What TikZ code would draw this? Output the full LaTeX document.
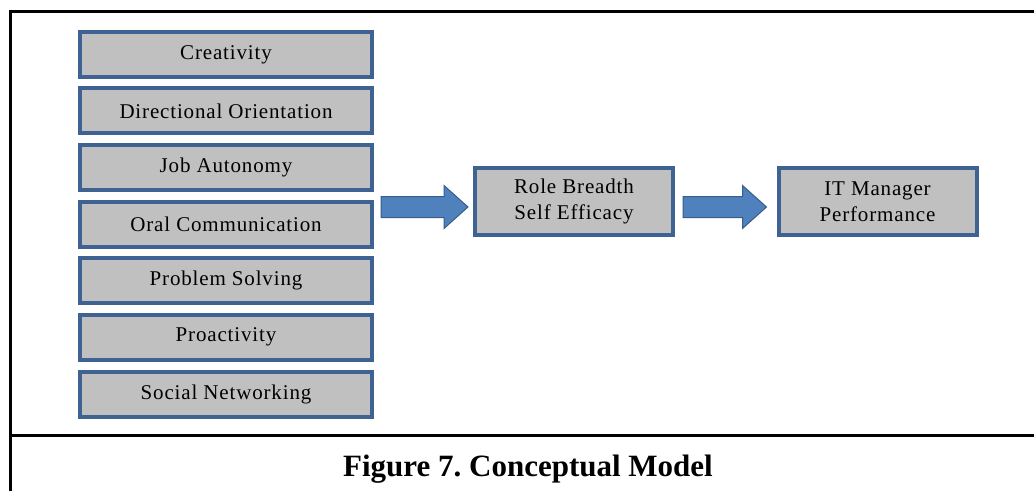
\documentclass[tikz,border=0pt]{standalone}
\usepackage{fontspec}
\setmainfont{Liberation Serif}
\newfontfamily\boxfont[LetterSpace=4]{Liberation Serif}
\usetikzlibrary{calc}
\definecolor{boxfill}{RGB}{192,192,192}
\definecolor{boxline}{RGB}{62,98,146}
\definecolor{arrowfill}{RGB}{79,129,189}
\definecolor{arrowline}{RGB}{56,93,138}
\tikzset{
  x=1pt, y=1pt,
  factor/.style={draw=boxline, line width=4pt, fill=boxfill, minimum width=292pt,
    minimum height=45pt, inner sep=0pt, font=\boxfont\fontsize{21}{26}\selectfont},
  stage/.style={draw=boxline, line width=4pt, fill=boxfill, minimum width=198pt,
    minimum height=67pt, inner sep=0pt, align=center, font=\boxfont\fontsize{21}{26}\selectfont},
  frame/.style={line width=3pt, black},
  blockarrow/.style={fill=arrowfill, draw=arrowline, line width=1pt, line join=miter}
}
% broad block arrow from #1 to #2 (tip at #2)
\newcommand\fatarrow[2]{%
  \path[blockarrow] ($(#1)+(0,10.5)$) -- ($(#2)+(-24,10.5)$) -- ($(#2)+(-24,21.5)$)
    -- (#2) -- ($(#2)+(-24,-21.5)$) -- ($(#2)+(-24,-10.5)$) -- ($(#1)+(0,-10.5)$) -- cycle;}
\begin{document}
\frenchspacing
\begin{tikzpicture}
\useasboundingbox (0,0) rectangle (1034,491);
% outer frame and caption rule
\draw[frame] (10.5,0) -- (10.5,479) -- (1034,479);
\draw[frame] (10.5,56) -- (1034,56);

% antecedent factors
\node[factor] (f1) at (226,436.5) {Creativity};
\node[factor] (f2) at (226,380) {Directional Orientation};
\node[factor] (f3) at (226,323.5) {Job Autonomy};
\node[factor] (f4) at (226,267) {Oral Communication};
\node[factor] (f5) at (226,210.5) {Problem Solving};
\node[factor] (f6) at (226,154) {Proactivity};
\node[factor] (f7) at (226,96.5) {Social Networking};

% mediator and outcome
\node[stage] (rbse) at (574,289.5) {Role Breadth\\Self Efficacy};
\node[stage] (perf) at (877.5,289.5) {IT Manager\\Performance};

% connecting block arrows
\coordinate (a1s) at ($(f4.east |- rbse.west)+(7,-5.5)$);
\coordinate (a1e) at ($(rbse.west)+(-5,-5.5)$);
\coordinate (a2s) at ($(rbse.east)+(8,-5.5)$);
\coordinate (a2e) at ($(perf.west)+(-10,-5.5)$);
\fatarrow{a1s}{a1e}
\fatarrow{a2s}{a2e}

% caption
\node[anchor=base, font=\fontsize{31}{37}\selectfont\bfseries] (cap) at (528,15)
  {Figure 7. Conceptual Model};
\end{tikzpicture}
\end{document}
